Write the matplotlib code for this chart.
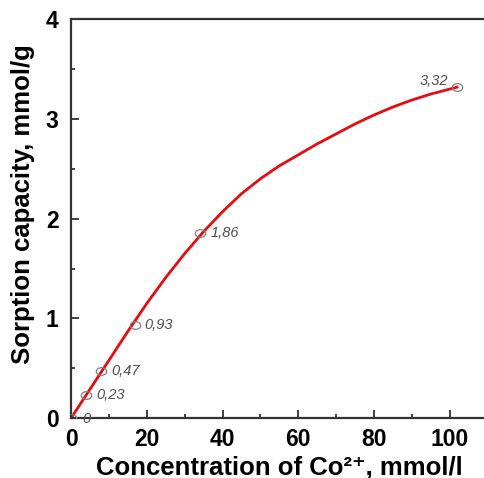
import matplotlib
matplotlib.use("Agg")
import matplotlib.pyplot as plt
from matplotlib.path import Path
from matplotlib.transforms import Affine2D
from matplotlib.ticker import MultipleLocator

# measured points (Co2+ concentration, mmol/l -> sorption capacity, mmol/g)
conc = [0, 4, 8, 17, 34, 102]
capacity = [0, 0.23, 0.47, 0.93, 1.86, 3.32]
point_labels = ["0", "0,23", "0,47", "0,93", "1,86", "3,32"]

# smooth isotherm curve drawn through the points
curve_x = [0, 5, 10, 15, 20, 25, 30, 35, 40, 45, 50, 55, 60, 65, 70,
           75, 80, 85, 90, 95, 102]
curve_y = [0, 0.29, 0.58, 0.87, 1.15, 1.41, 1.65, 1.87, 2.07, 2.25, 2.40,
           2.53, 2.64, 2.75, 2.85, 2.95, 3.04, 3.12, 3.19, 3.25, 3.32]

# slightly flattened open circle
ellipse = Path.unit_circle().transformed(Affine2D().scale(1.35, 1.0))

fig = plt.figure(figsize=(4.84, 4.78), dpi=100)
ax = fig.add_axes([0.147, 0.1255, 0.86, 0.834])

ax.plot(curve_x, curve_y, color="#e60a12", lw=2, zorder=2)
ax.plot(conc, capacity, ls="none", marker=ellipse, ms=7.5, mfc="none",
        mec="#808080", mew=0.9, zorder=3)

# value labels next to each point
offsets = [(8, -1, "left"), (7, 0, "left"), (7.5, 0, "left"),
           (6.5, 0, "left"), (7.5, -0.5, "left"), (-6.5, 4.5, "right")]
for x, y, s, (dx, dy, ha) in zip(conc, capacity, point_labels, offsets):
    ax.annotate(s, (x, y), xytext=(dx, dy), textcoords="offset points",
                ha=ha, va="center", fontsize=10.5, style="italic",
                color="#505050", family="Liberation Sans")

ax.set_xlim(0, 110)
ax.set_ylim(0, 4)
ax.xaxis.set_major_locator(MultipleLocator(20))
ax.xaxis.set_minor_locator(MultipleLocator(10))
ax.yaxis.set_major_locator(MultipleLocator(1))
ax.yaxis.set_minor_locator(MultipleLocator(0.5))
ax.tick_params(which="both", direction="in", width=1.3, color="#333333",
               top=False, right=False)
ax.tick_params(which="major", length=6, labelsize=16.5)
ax.tick_params(axis="y", which="major", pad=9)
ax.tick_params(axis="x", which="major", pad=7)
ax.tick_params(which="minor", length=3)
for lab in ax.get_xticklabels() + ax.get_yticklabels():
    lab.set_fontweight("bold")
    lab.set_family("Liberation Sans")
for sp in ax.spines.values():
    sp.set_linewidth(1.6)
    sp.set_color("#333333")
ax.spines["right"].set_visible(False)

ax.set_xlabel("Concentration of Co²⁺, mmol/l", fontsize=18.5,
              family=["Liberation Sans", "DejaVu Sans"], fontweight="bold")
ax.xaxis.set_label_coords(0.5, -0.096)
ax.set_ylabel("Sorption capacity, mmol/g", fontsize=18.5,
              family="Liberation Sans", fontweight="bold")
ax.yaxis.set_label_coords(-0.088, 0.536)

fig.savefig("out.png", dpi=100)
